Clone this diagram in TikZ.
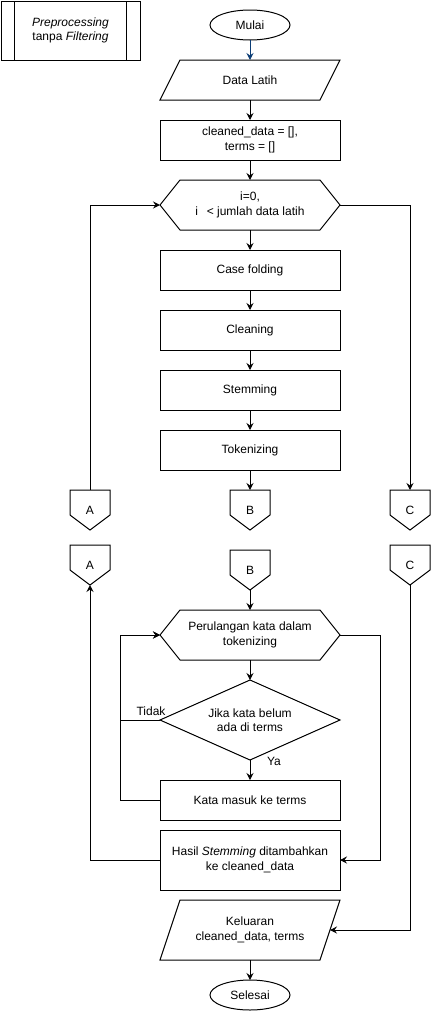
\documentclass[tikz,border=0pt]{standalone}
\usepackage{fontspec}
\setmainfont{Liberation Sans}
\usetikzlibrary{arrows.meta,shapes.geometric}
\definecolor{navy}{HTML}{0B3C75}
\newcommand\offpg[1]{\draw[ln] (#1.north west) -- (#1.north east) -- ([yshift=15pt]#1.south east) -- (#1.south) -- ([yshift=15pt]#1.south west) -- cycle;}
\newcommand\parpg[1]{\draw[ln] ([xshift=20pt]#1.north west) -- (#1.north east) -- ([xshift=-20pt]#1.south east) -- (#1.south west) -- cycle;}
\newcommand\hexpg[1]{\draw[ln] (#1.west) -- ([xshift=20pt]#1.north west) -- ([xshift=-20pt]#1.north east) -- (#1.east) -- ([xshift=-20pt]#1.south east) -- ([xshift=20pt]#1.south west) -- cycle;}
\tikzset{
  base/.style={inner sep=0pt, outer sep=0pt, align=center, font=\fontsize{12}{14.4}\selectfont, line width=1pt},
  shp/.style={base, minimum width=180pt, minimum height=#1},
  boxn/.style={base, draw, minimum width=180pt, minimum height=#1},
  term/.style={base, draw, ellipse, minimum width=80pt, minimum height=30pt},
  off/.style={base, minimum width=40pt, minimum height=40pt},
  lbl/.style={base},
  ln/.style={line width=1pt},
  arw/.style={line width=1pt, -{Stealth[length=7pt,width=7pt,inset=2.5pt]}},
}
\begin{document}
\begin{tikzpicture}[x=1pt,y=-1pt]
\useasboundingbox (0,0) rectangle (432,1012);

% predefined process
\node[base, draw, minimum width=139pt, minimum height=59pt] (pre) at (70.5,30.5) {\textit{Preprocessing}\\tanpa \textit{Filtering}};
\draw[ln] ([xshift=13.5pt]pre.north west) -- ([xshift=13.5pt]pre.south west);
\draw[ln] ([xshift=-13.5pt]pre.north east) -- ([xshift=-13.5pt]pre.south east);

% upper flow
\node[term] (start) at (250,25) {Mulai};
\node[shp=40pt] (data) at (250,80) {Data Latih}; \parpg{data}
\node[boxn=40pt] (init) at (250,140) {cleaned\_data = [],\\terms = []};
\node[shp=50pt] (loop) at (250,205) {i=0,\\i \ \,< jumlah data latih}; \hexpg{loop}
\node[boxn=40pt] (case) at (250,270) {Case folding};
\node[boxn=40pt] (clean) at (250,330) {Cleaning};
\node[boxn=40pt] (stem) at (250,390) {Stemming};
\node[boxn=40pt] (tok) at (250,450) {Tokenizing};

\node[off] (a1) at (90,510) {A}; \offpg{a1}
\node[off] (b1) at (250,510) {B}; \offpg{b1}
\node[off] (c1) at (410,510) {C}; \offpg{c1}
\node[off] (a2) at (90,565) {A}; \offpg{a2}
\node[off] (b2) at (250,570) {B}; \offpg{b2}
\node[off] (c2) at (410,565) {C}; \offpg{c2}

% lower flow
\node[shp=50pt] (per) at (250,635) {Perulangan kata dalam\\tokenizing}; \hexpg{per}
\node[shp=80pt] (cond) at (250,720) {Jika kata belum\\ada di terms};
\draw[ln] (cond.north) -- (cond.east) -- (cond.south) -- (cond.west) -- cycle;
\node[boxn=40pt] (kata) at (250,800) {Kata masuk ke terms};
\node[boxn=60pt] (hasil) at (250,860) {Hasil \textit{Stemming} ditambahkan\\ke cleaned\_data};
\node[shp=60pt] (out) at (250,930) {Keluaran\\cleaned\_data, terms}; \parpg{out}
\coordinate (outE) at (330,930);
\node[term] (end) at (250,995) {Selesai};

\node[lbl, anchor=base east] (tidak) at (165.5,715) {Tidak};
\node[lbl, anchor=base west] (ya) at (267,765.5) {Ya};

% connectors
\draw[arw, navy] (start.south) -- (data.north);
\draw[arw] (data.south) -- (init.north);
\draw[arw] (init.south) -- (loop.north);
\draw[arw] (loop.south) -- (case.north);
\draw[arw] (case.south) -- (clean.north);
\draw[arw] (clean.south) -- (stem.north);
\draw[arw] (stem.south) -- (tok.north);
\draw[arw] (tok.south) -- (b1.north);
\draw[arw] (loop.east) -| (c1.north);
\draw[arw] (a1.north) |- (loop.west);

\draw[arw] (b2.south) -- (per.north);
\draw[arw] (per.south) -- (cond.north);
\draw[arw] (cond.south) -- (kata.north);
\draw[arw] (cond.west) -- (120,720) |- (per.west);
\draw[arw] (kata.west) -- (120,800) |- (per.west);
\draw[arw] (per.east) -- (380,635) |- (hasil.east);
\draw[arw] (hasil.west) -| (a2.south);
\draw[arw] (c2.south) |- (outE);
\draw[arw] (out.south) -- (end.north);
\end{tikzpicture}
\end{document}
